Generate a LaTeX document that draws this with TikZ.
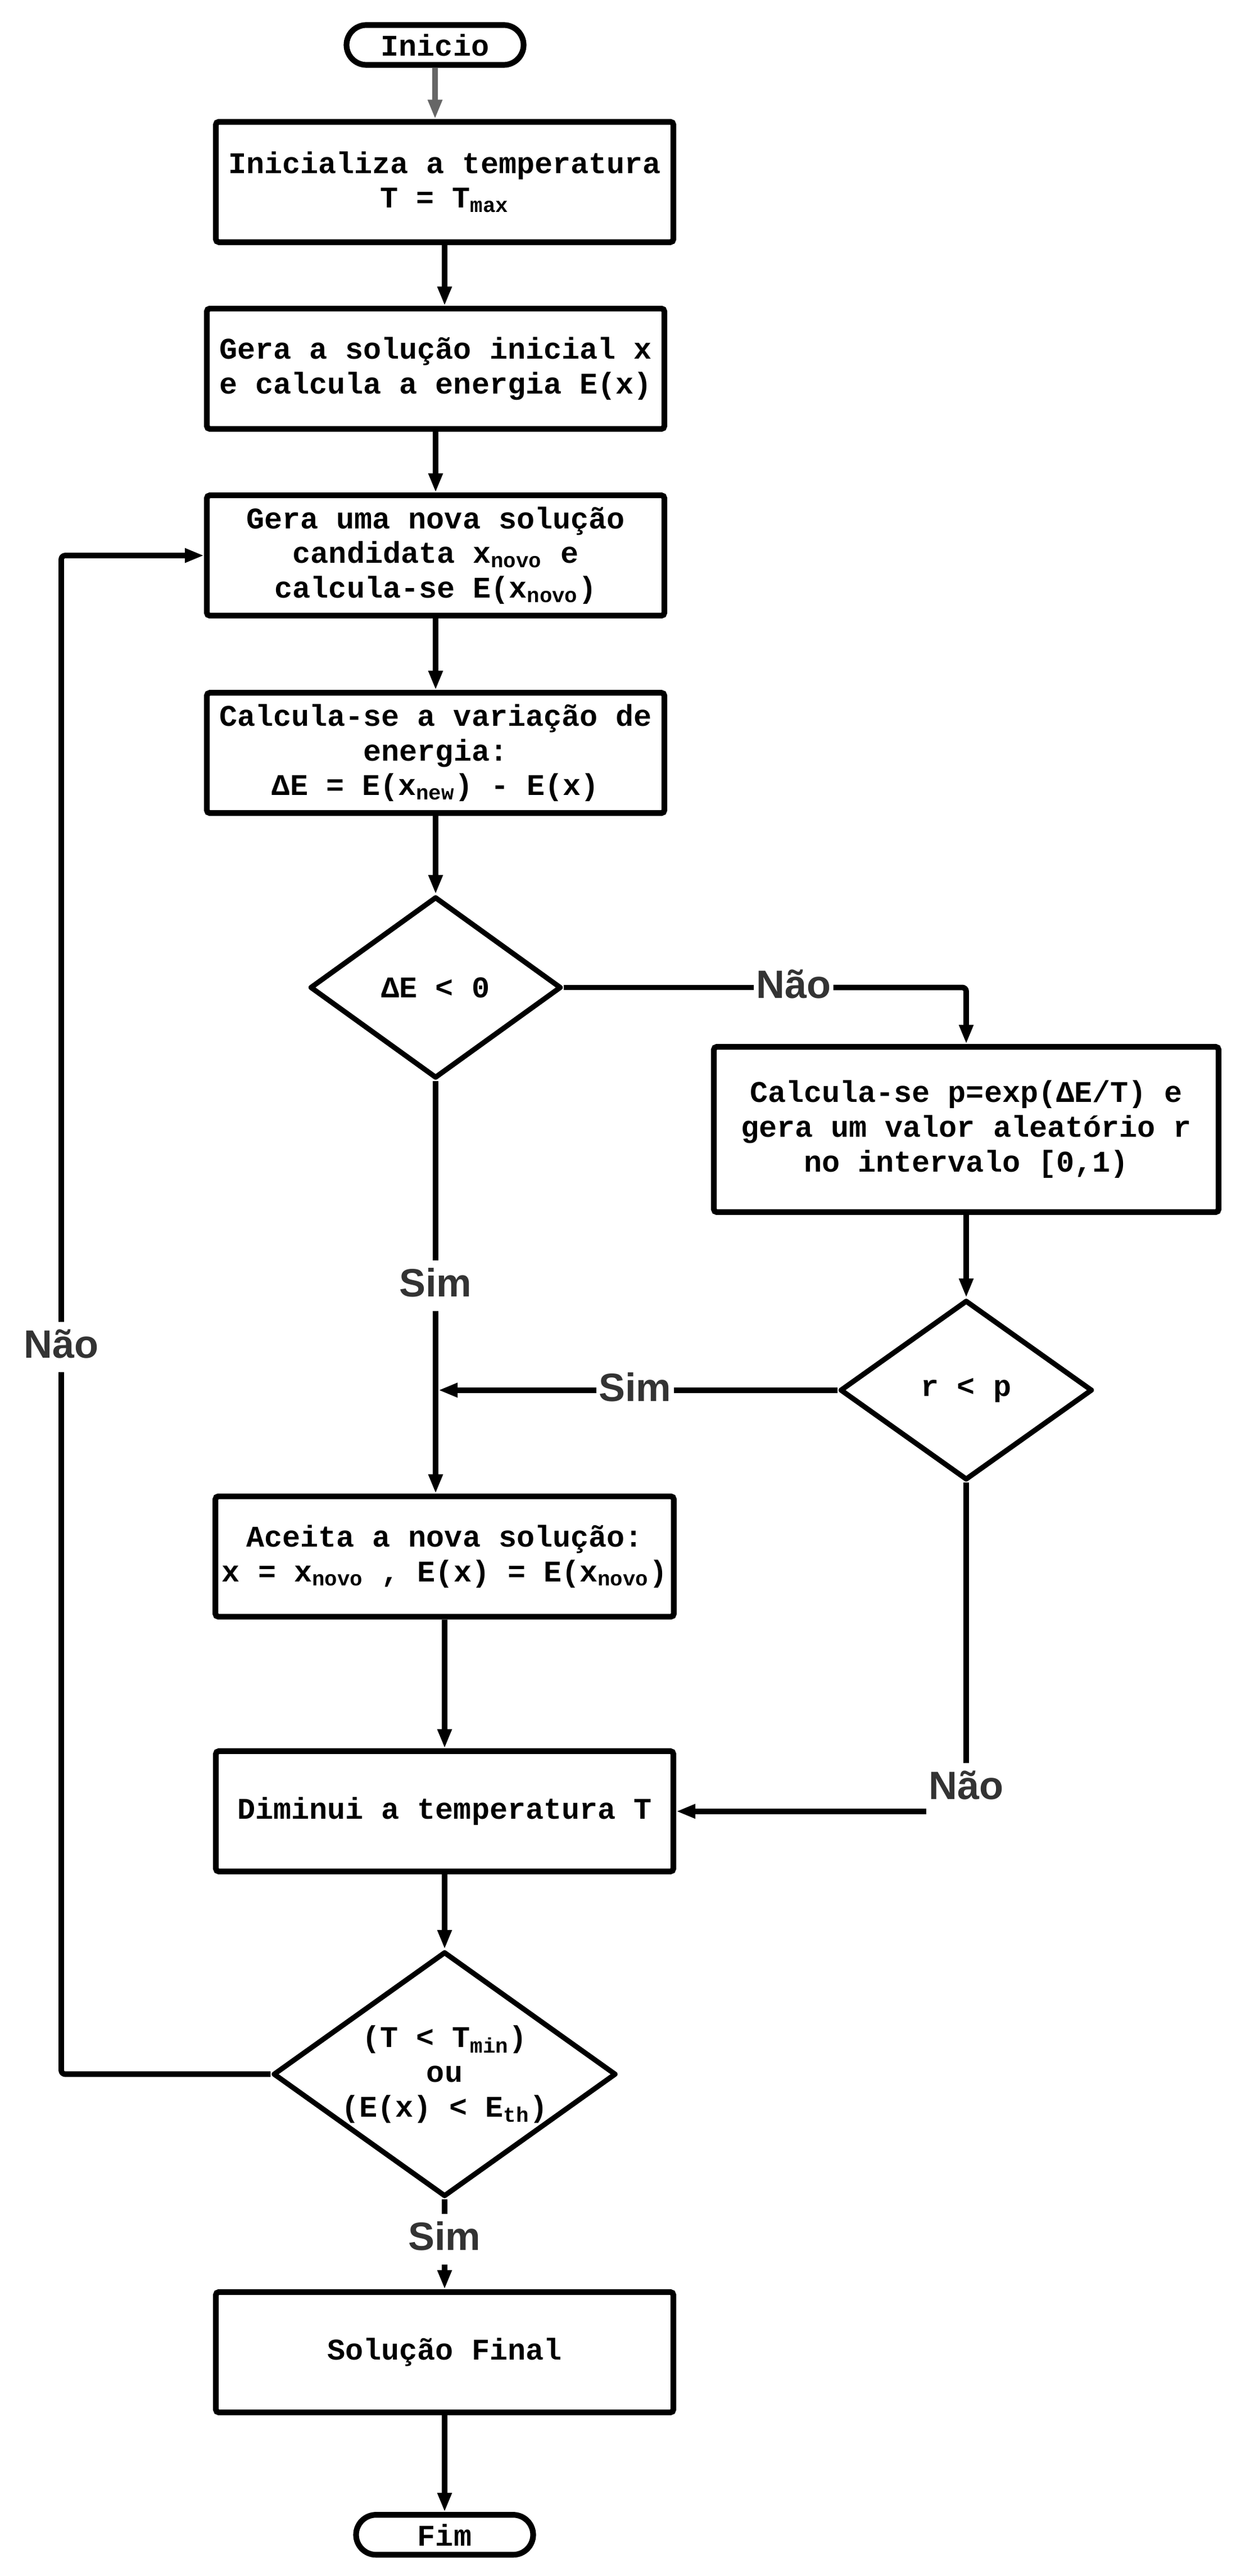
\documentclass[tikz,border=0pt]{standalone}
\usepackage{fontspec}
\newfontfamily\flowfont{Liberation Mono}
\newfontfamily\labelfont{Liberation Sans}
\usetikzlibrary{positioning,shapes.geometric,arrows.meta}

\begin{document}
\begin{tikzpicture}[blocknode/.style={rectangle, draw=black, line width=2.9pt, rounded corners=1.5pt, minimum width=8.14cm, minimum height=2.14cm, align=center, font=\flowfont\bfseries\fontsize{15.2}{17.6}\selectfont},
                    decisionnode/.style={diamond, draw=black, line width=2.6pt, line join=round, aspect=1.4, inner sep=0pt, align=center, font=\flowfont\bfseries\fontsize{15.2}{17.6}\selectfont},
                    terminalnode/.style={rectangle, draw=black, line width=2.9pt, rounded corners=0.355cm, minimum width=3.15cm, minimum height=0.71cm, font=\flowfont\bfseries\fontsize{15.2}{17.6}\selectfont},
                    labelnode/.style={rectangle, text=black!80, inner xsep=1pt, inner ysep=2pt, text height=16pt, text depth=5pt, font=\labelfont\bfseries\fontsize{20}{24}\selectfont},
                    flowline/.style={line width=2.8pt, line join=round, rounded corners=2pt},
                    >={Triangle[length=9.7pt,width=6.8pt]}]
                \useasboundingbox (0,0) rectangle (22.14,-45.82);
                \node[terminalnode] (0) at (7.74,-0.80) {Inicio};
                \node[blocknode] (1) [below=0.91cm of 0, xshift=0.17cm] {Inicializa a temperatura\\T = T\textsubscript{max}};
                \node[blocknode] (2) [below=1.08cm of 1, xshift=-0.16cm] {Gera a solução inicial x\\e calcula a energia E(x)};
                \node[blocknode] (3) [below=1.08cm of 2] {Gera uma nova solução\\candidata x\textsubscript{novo} e\\calcula-se E(x\textsubscript{novo})};
                \node[blocknode] (4) [below=1.27cm of 3] {Calcula-se a variação de\\energia:\\ΔE = E(x\textsubscript{new}) - E(x)};
                \node[decisionnode, minimum width=4.47cm, minimum height=3.23cm] (5) [below=1.39cm of 4] {ΔE < 0};
                \node[blocknode, minimum width=8.98cm, minimum height=2.94cm] (6) at (17.19,-20.09) {Calcula-se p=exp(ΔE/T) e\\gera um valor aleatório r\\no intervalo [0,1)};
                \node[decisionnode, minimum width=4.49cm, minimum height=3.20cm] (7) [below=1.47cm of 6] {r < p};
                \node[blocknode] (8) [below=7.34cm of 5, xshift=0.16cm] {Aceita a nova solução:\\x = x\textsubscript{novo} , E(x) = E(x\textsubscript{novo})};
                \node[blocknode] (9) [below=2.29cm of 8] {Diminui a temperatura T};
                \node[decisionnode, minimum width=6.07cm, minimum height=4.29cm] (10) [below=1.33cm of 9] {(T < T\textsubscript{min})\\ou\\(E(x) < E\textsubscript{th})};
                \node[blocknode] (11) [below=1.60cm of 10] {Solução Final};
                \node[terminalnode] (12) [below=1.72cm of 11] {Fim};
                \node[labelnode] (13) at (14.12,0 |- 5) {Não};
                \node[labelnode] (14) at (5 |- 0,-22.87) {Sim};
                \node[labelnode] (15) at (11.30,0 |- 7) {Sim};
                \node[labelnode] (16) at (7 |- 0,-31.81) {Não};
                \node[labelnode] (17) at (1.09,-23.96) {Não};
                \node[labelnode] (18) at (10 |- 0,-39.83) {Sim};
                \draw[flowline,->,black!60] (0.south) -- (0.south |- 1.north);
                \draw[flowline,->] (1.south) -- (1.south |- 2.north);
                \draw[flowline,->] (2.south) -- (3.north);
                \draw[flowline,->] (3.south) -- (4.north);
                \draw[flowline,->] (4.south) -- (5.north);
                \draw[flowline] (5.east) -- (13.west);
                \draw[flowline,->] (13.east) -| (6.north);
                \draw[flowline] (5.south) -- (14.north);
                \draw[flowline,->] (14.south) -- (14.south |- 8.north);
                \draw[flowline,->] (6.south) -- (7.north);
                \draw[flowline] (7.west) -- (15.east);
                \draw[flowline,->,shorten >=1.4pt] (15.west) -- (14 |- 15.west);
                \draw[flowline] (7.south) -- (16.north);
                \draw[flowline,->] (16.west |- 9.east) -- (9.east);
                \draw[flowline,->] (8.south) -- (9.north);
                \draw[flowline,->] (9.south) -- (10.north);
                \draw[flowline] (10.west) -| (17.south);
                \draw[flowline,->] (17.north) |- (3.west);
                \draw[flowline] (10.south) -- (18.north);
                \draw[flowline,->] (18.south) -- (11.north);
                \draw[flowline,->] (11.south) -- (12.north);
            \end{tikzpicture}
\end{document}
